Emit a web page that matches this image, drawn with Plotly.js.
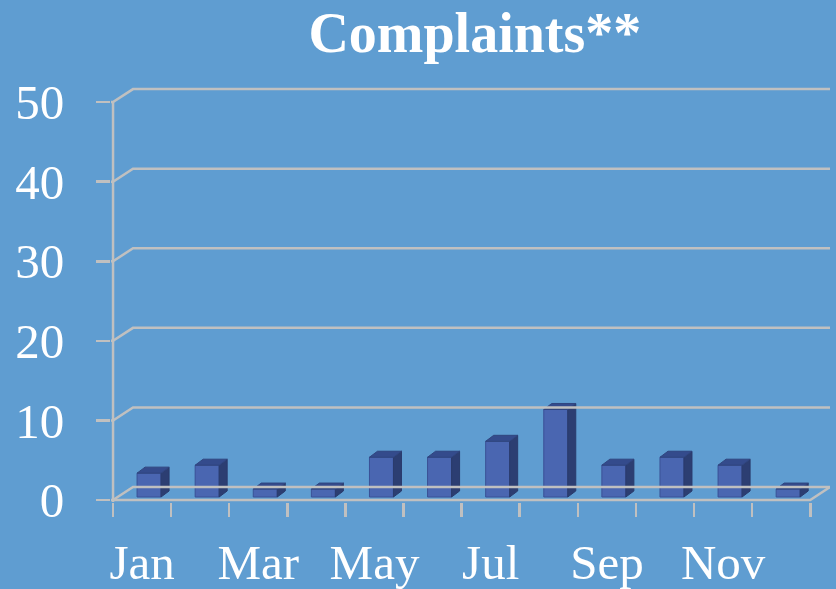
<!DOCTYPE html>
<html>
<head>
<meta charset="utf-8">
<script src="https://cdn.plot.ly/plotly-3.0.1.min.js"></script>
<style>html,body{margin:0;padding:0;background:#5F9DD1;}#chart{width:836px;height:589px;}</style>
</head>
<body>
<div id="chart"></div>
<script>
// ---- data ----
const months = ["Jan","Feb","Mar","Apr","May","Jun","Jul","Aug","Sep","Oct","Nov","Dec"];
const complaints = [3, 4, 1, 1, 5, 5, 7, 11, 4, 5, 4, 1];
const yTicks = [0, 10, 20, 30, 40, 50];
const xLabelIdx = [0, 2, 4, 6, 8, 10];

// ---- pseudo-3D geometry (data units) ----
const X_AX = -0.5, X_MIN = -0.535, X_MAX = 11.84, Y_MIN = -0.25, Y_MAX = 51.9;
const wallDx = 0.344, wallDy = 1.633;   // back-wall offset
const barShift = 0.12, barW = 0.413, barBase = 0.377;
const depDx = 0.138, depDy = 0.754;     // bar depth offset

const n = months.length;
const xs = months.map((m, i) => i);

const front = {
  type: 'bar', x: xs.map(i => i + barShift), y: complaints, base: barBase,
  width: barW, marker: {color: '#4A66B1', line: {color: '#3A5196', width: 1}},
  hoverinfo: 'skip', showlegend: false
};
const topX = [], topY = [], sideX = [], sideY = [];
complaints.forEach((v, i) => {
  const xl = i + barShift - barW / 2, xr = i + barShift + barW / 2;
  const t = barBase + v;
  topX.push(xl, xr, xr + depDx, xl + depDx, xl, null);
  topY.push(t, t, t + depDy, t + depDy, t, null);
  sideX.push(xr, xr + depDx, xr + depDx, xr, xr, null);
  sideY.push(barBase, barBase + depDy, t + depDy, t, barBase, null);
});
const topFace = {type: 'scatter', mode: 'lines', x: topX, y: topY, fill: 'toself',
  fillcolor: '#344B8C', line: {color: '#30457F', width: 1}, hoverinfo: 'skip', showlegend: false};
const sideFace = {type: 'scatter', mode: 'lines', x: sideX, y: sideY, fill: 'toself',
  fillcolor: '#2C3E72', line: {color: '#2A3B6C', width: 1}, hoverinfo: 'skip', showlegend: false};

// ---- frame shapes ----
const gc = '#C0C0C0';
const lw = 2.5;
const shapes = [];
yTicks.forEach(v => {
  shapes.push({type: 'path', xref: 'x', yref: 'y',
    path: `M ${X_MIN} ${v} L ${X_AX} ${v} L ${X_AX + wallDx} ${v + wallDy} L ${X_MAX} ${v + wallDy}`,
    line: {color: gc, width: lw}});
});
// floor front edge and right diagonal
shapes.push({type: 'path', xref: 'x', yref: 'y',
  path: `M ${X_AX} 0 L ${n - 0.5} 0 L ${X_MAX} ${wallDy}`, line: {color: gc, width: lw}});
// vertical axis
shapes.push({type: 'line', xref: 'x', yref: 'y', x0: X_AX, x1: X_AX, y0: Y_MIN, y1: 50,
  line: {color: gc, width: lw}});

const font = '"Palatino Linotype", "Book Antiqua", Palatino, "Liberation Serif", serif';
const layout = {
  width: 836, height: 589,
  paper_bgcolor: '#5F9DD1', plot_bgcolor: 'rgba(0,0,0,0)',
  margin: {l: 111, r: 6, t: 87, b: 87},
  title: {text: '<b>Complaints**</b>', x: 0.568, xanchor: 'center', y: 0.945, yanchor: 'middle',
    font: {family: font, size: 56, color: '#FFFFFF'}},
  showlegend: false,
  xaxis: {range: [X_MIN, X_MAX], showgrid: false, zeroline: false, showline: false,
    tickvals: xLabelIdx, ticktext: xLabelIdx.map(i => months[i]), ticks: '',
    ticklabelstandoff: 27,
    tickfont: {family: font, size: 49, color: '#FFFFFF'}, fixedrange: true},
  xaxis2: {range: [X_MIN, X_MAX], overlaying: 'x', anchor: 'y', side: 'bottom',
    tickvals: months.map((m, i) => i - 0.5).concat([n - 0.5]), showticklabels: false,
    ticks: 'outside', ticklen: 14, tickwidth: lw, tickcolor: gc,
    showgrid: false, zeroline: false, showline: false},
  yaxis: {range: [Y_MIN, Y_MAX], tickvals: yTicks, ticks: 'outside', ticklen: 14, tickwidth: lw,
    tickcolor: gc, showgrid: false, zeroline: false, showline: false,
    ticklabelstandoff: 22,
    tickfont: {family: font, size: 49, color: '#FFFFFF'}, fixedrange: true},
  shapes: shapes
};
const axisHolder = {type: 'scatter', x: [X_MIN], y: [0], xaxis: 'x2', mode: 'markers',
  marker: {opacity: 0}, hoverinfo: 'skip', showlegend: false};

Plotly.newPlot('chart', [front, sideFace, topFace, axisHolder], layout, {displayModeBar: false, staticPlot: true});
</script>
</body>
</html>
